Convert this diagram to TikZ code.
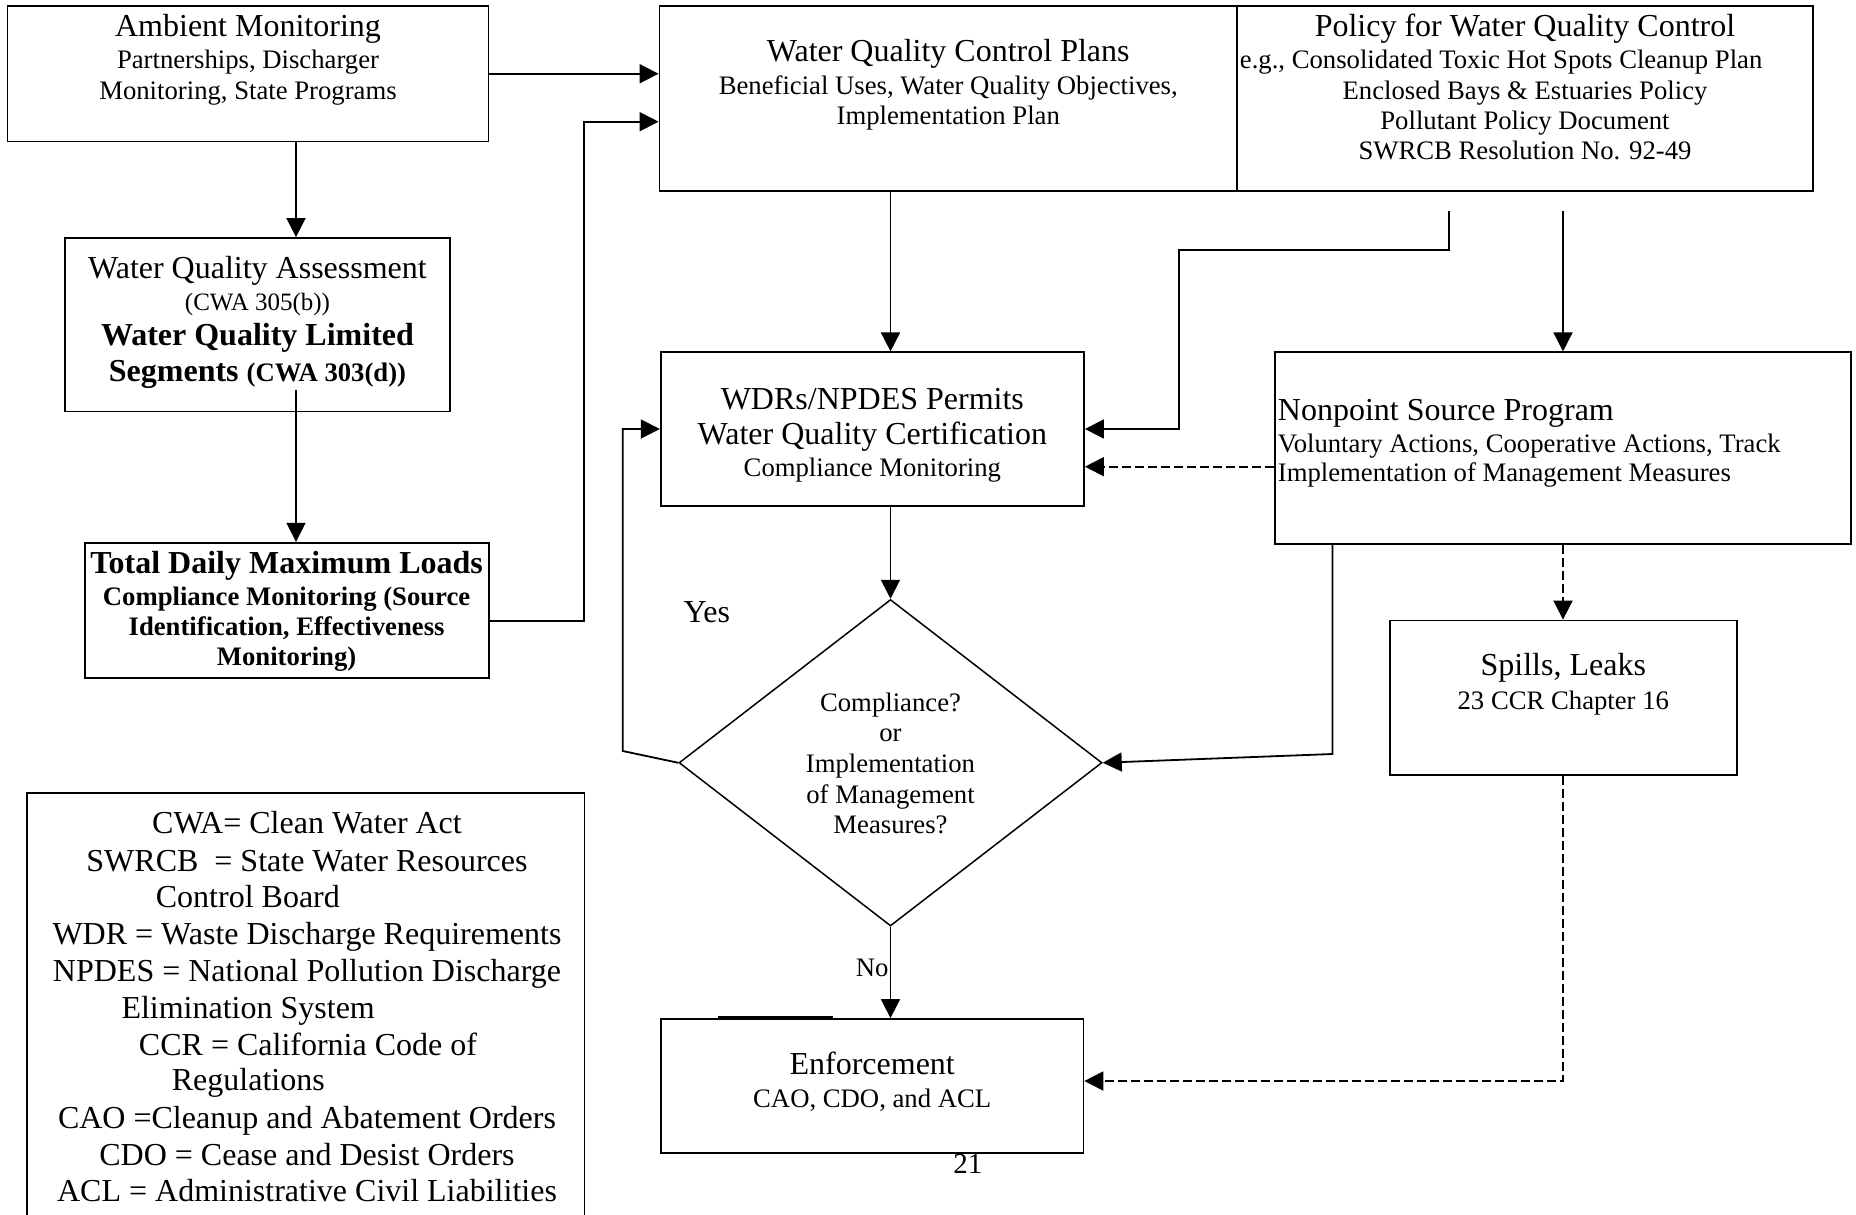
\documentclass[tikz,border=0pt]{standalone}
\usepackage{fontspec}
\setmainfont{Liberation Serif}
\usetikzlibrary{arrows.meta,shapes.geometric}
\begin{document}
\begin{tikzpicture}[x=1pt,y=-1pt,
  line width=1.8pt,
  box/.style={draw, inner sep=0pt, line width=1.8pt},
  big/.style={inner sep=0pt, anchor=base, font=\fontsize{32}{38}\selectfont},
  bigb/.style={inner sep=0pt, anchor=base, font=\fontsize{32}{38}\selectfont\bfseries},
  sm/.style={inner sep=0pt, anchor=base, font=\fontsize{26.7}{31}\selectfont},
  smb/.style={inner sep=0pt, anchor=base, font=\fontsize{26.7}{31}\selectfont\bfseries},
  arr/.style={-{Triangle[length=19pt,width=19pt]}},
  dsh/.style={dash pattern=on 9pt off 4pt},
]
\useasboundingbox (0,0) rectangle (1856,1215);

% ---------- boxes ----------
\node[box, minimum width=481pt, minimum height=135.5pt] (amb) at (248,73.75) {};
\node[box, minimum width=385pt, minimum height=173.5pt] (assess) at (257.5,324.75) {};
\node[box, minimum width=404pt, minimum height=135.3pt] (tmdl) at (286.6,610.35) {};
\node[box, minimum width=557.4pt, minimum height=447pt] (legend) at (305.7,1016.5) {};
\node[box, minimum width=577.5pt, minimum height=185pt] (wqcp) at (948.25,98.5) {};
\node[box, minimum width=576pt, minimum height=185pt] (policy) at (1525,98.5) {};
\node[box, minimum width=423.3pt, minimum height=153.4pt] (wdr) at (872.35,429) {};
\node[box, minimum width=576pt, minimum height=191.7pt] (nps) at (1563,448.15) {};
\node[draw, diamond, inner sep=0pt, line width=1.5pt, minimum width=423pt, minimum height=326.5pt] (dia) at (890.5,762.75) {};
\node[box, minimum width=346.6pt, minimum height=154.5pt] (spills) at (1563.3,697.75) {};
\node[box, minimum width=422.4pt, minimum height=133.6pt] (enf) at (872.2,1085.8) {};

% ---------- texts ----------
\node[big] (ambT) at (248,36.7) {Ambient Monitoring};
\node[sm] (ambS1) at (248,68.3) {Partnerships, Discharger};
\node[sm] (ambS2) at (248,99.3) {Monitoring, State Programs};

\node[big] (asT) at (257.5,278) {Water Quality Assessment};
\node[inner sep=0pt, anchor=base, font=\fontsize{25}{30}\selectfont] (asS) at (257.5,310) {(CWA 305(b))};
\node[bigb] (asB1) at (257.5,345) {Water Quality Limited};
\node[bigb] (asB2) at (257.5,381.7) {Segments {\fontsize{26.7}{31}\selectfont(CWA 303(d))}};

\node[bigb] (tmT) at (286.6,573.5) {Total Daily Maximum Loads};
\node[smb] (tm1) at (286.6,605) {Compliance Monitoring (Source};
\node[smb] (tm2) at (286.6,635) {Identification, Effectiveness};
\node[smb] (tm3) at (286.6,665) {Monitoring)};

\node[big] (wqT) at (948.25,61.7) {Water Quality Control Plans};
\node[sm] (wq1) at (948.25,94.1) {Beneficial Uses, Water Quality Objectives,};
\node[sm] (wq2) at (948.25,124.7) {Implementation Plan};

\node[big] (poT) at (1525,36.7) {Policy for Water Quality Control};
\node[sm, anchor=base west] (po1) at (1239,68.4) {e.g., Consolidated Toxic Hot Spots Cleanup Plan};
\node[sm] (po2) at (1525,99.3) {Enclosed Bays \& Estuaries Policy};
\node[sm] (po3) at (1525,129.3) {Pollutant Policy Document};
\node[sm] (po4) at (1525,159.7) {SWRCB Resolution No. 92-49};

\node[big] (wdT1) at (872.35,409.2) {WDRs/NPDES Permits};
\node[big] (wdT2) at (872.35,444.1) {Water Quality Certification};
\node[sm] (wd1) at (872.35,476.2) {Compliance Monitoring};

\node[big, anchor=base west] (npT) at (1277,420.2) {Nonpoint Source Program};
\node[sm, anchor=base west] (np1) at (1277,452.6) {Voluntary Actions, Cooperative Actions, Track};
\node[sm, anchor=base west] (np2) at (1277,481) {Implementation of Management Measures};

\node[sm] (di1) at (890.5,711) {Compliance?};
\node[sm] (di2) at (890.5,741) {or};
\node[sm] (di3) at (890.5,772.5) {Implementation};
\node[sm] (di4) at (890.5,803.5) {of Management};
\node[sm] (di5) at (890.5,833.7) {Measures?};

\node[big] (spT) at (1563.3,675.4) {Spills, Leaks};
\node[sm] (sp1) at (1563.3,709.2) {23 CCR Chapter 16};

\node[big] (enT) at (872.2,1074) {Enforcement};
\node[sm] (en1) at (872.2,1107.2) {CAO, CDO, and ACL};

\node[big, anchor=base west] (yes) at (682.6,622.9) {Yes};
\node[sm, anchor=base west] (no) at (855,976.6) {No};
\node[inner sep=0pt, anchor=base west, font=\fontsize{29}{34}\selectfont] (pg) at (952.5,1173) {21};

\node[big] (lg1) at (307,833.5) {CWA= Clean Water Act};
\node[big] (lg2) at (307,871) {SWRCB\ \ = State Water Resources};
\node[big, anchor=base west] (lg3) at (155,907) {Control Board};
\node[big] (lg4) at (307,944) {WDR = Waste Discharge Requirements};
\node[big] (lg5) at (307,981) {NPDES = National Pollution Discharge};
\node[big, anchor=base west] (lg6) at (120.6,1018) {Elimination System};
\node[big] (lg7) at (308,1055.4) {CCR = California Code of};
\node[big, anchor=base west] (lg8) at (171,1090.4) {Regulations};
\node[big] (lg9) at (307,1128.2) {CAO =Cleanup and Abatement Orders};
\node[big] (lg10) at (307,1165.4) {CDO = Cease and Desist Orders};
\node[big] (lg11) at (307,1201.5) {ACL = Administrative Civil Liabilities};

% ---------- connectors ----------
\coordinate (vx) at (890.5,0);
\coordinate (ax) at (296,0);
\coordinate (a2) at (296,390);
\coordinate (tk) at (583.7,121.7);
\coordinate (p1) at (1449,211);
\coordinate (p2) at (1179,250);
\coordinate (p3) at (1563,211);
\coordinate (dy) at (0,466.7);
\coordinate (n1) at (1332.5,754);
\coordinate (y1) at (622.7,751);
\coordinate (e1) at (0,1081);

\draw[arr] (amb.east) -- (amb.east -| wqcp.west);
\draw[arr] (amb.south -| ax) -- (assess.north -| ax);
\draw[arr] (a2) -- (tmdl.north -| a2);
\draw[arr] ([yshift=-10.4pt]tmdl.east) -| (tk) -- (tk -| wqcp.west);
\draw[arr] (wqcp.south -| vx) -- (wdr.north -| vx);
\draw[arr] (p1) |- (p2) |- (wdr.east);
\draw[arr] (p3) -- (nps.north -| p3);
\draw[arr,dsh] (nps.west |- dy) -- (wdr.east |- dy);
\draw[arr,dsh] (nps.south -| p3) -- (spills.north -| p3);
\draw[arr] (nps.south -| n1) -- (n1) -- (dia.east);
\draw[arr] (wdr.south -| vx) -- (dia.north);
\draw[arr] (dia.west) -- (y1) |- (wdr.west);
\draw[arr] (dia.south) -- (enf.north -| dia.south);
\draw[arr,dsh] (spills.south -| p3) |- (enf.east |- e1);

% short heavier stroke on the top edge of Enforcement
\draw[line width=3pt] (718,1017.7) -- (833,1017.7);
\end{tikzpicture}
\end{document}
